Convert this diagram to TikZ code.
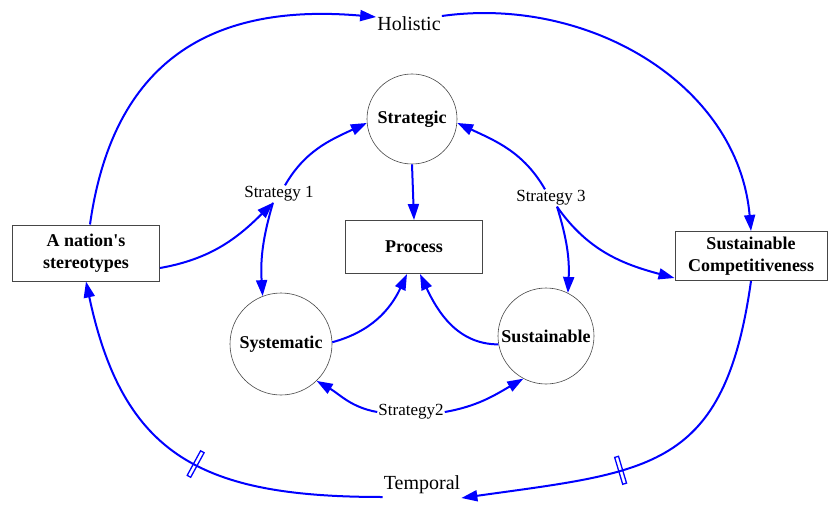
\documentclass[tikz,border=0pt]{standalone}
\usepackage{fontspec}
\setmainfont{Liberation Serif}
\usetikzlibrary{positioning, arrows.meta, shapes}
\definecolor{linkblue}{RGB}{0,0,255}
\definecolor{rimgray}{RGB}{70,70,70}

\begin{document}
\begin{tikzpicture}[x=1pt, y=1pt,
    link/.style={draw=linkblue, line width=2pt, -{Triangle[length=16pt, width=11pt]}},
    level/.style={circle, draw=rimgray, line width=0.6pt, inner sep=0pt,
        font=\fontsize{18}{22}\selectfont\bfseries},
    stock/.style={rectangle, draw=rimgray, line width=1pt, inner sep=0pt,
        align=center, font=\fontsize{18}{22}\selectfont\bfseries},
    aux/.style={inner sep=1pt, font=\fontsize{17}{20}\selectfont},
    delay/.style={sloped, draw=linkblue, line width=1.3pt, minimum width=4pt,
        minimum height=28pt, inner sep=0pt}]
    \useasboundingbox (0,0) rectangle (829,504);

    % Outer labels
    \node[aux, font=\fontsize{20}{22}\selectfont] (hol) at (409,480) {Holistic};
    \node[aux, font=\fontsize{20}{22}\selectfont] (temp) at (422,19) {Temporal};

    % Levels and boxes
    \node[level, minimum size=90pt] (strat) at (412,385) {Strategic};
    \node[stock, minimum width=137pt, minimum height=53pt] (proc) at (414,257) {Process};
    \node[level, minimum size=102pt] (syst) at (281,160) {Systematic};
    \node[level, minimum size=96pt] (sust) at (546,168) {Sustainable};
    \node[stock, minimum width=147pt, minimum height=56pt] (ster) at (86,251)
        {A nation\textquotesingle s\\stereotypes};
    \node[stock, minimum width=152pt, minimum height=49pt] (comp) at (751,248)
        {Sustainable\\Competitiveness};

    % Strategy labels
    \node[aux] (s1) at (279,310) {Strategy 1};
    \node[aux] (s2) at (411,92) {Strategy2};
    \node[aux] (s3) at (551,306) {Strategy 3};

    % Outer loop
    \draw[link] ([xshift=4pt]ster.north) to[out=82, in=175, looseness=1.2] ([yshift=7pt]hol.west);
    \draw[link] ([yshift=8pt]hol.east) to[out=8, in=95] (comp.north);
    \draw[link] (comp.south) to[out=262, in=8, looseness=1.35] node[delay, pos=0.65] {} ([yshift=-13pt]temp.east);
    \draw[link] ([yshift=-12pt]temp.west) to[out=180, in=282, looseness=1.25] node[delay, pos=0.45] {} (ster.south);

    % Strategy 1
    \draw[link] ([yshift=-15pt]ster.east) to[out=10, in=225] ([xshift=-6pt]s1.south);
    \draw[link] ([xshift=6pt]s1.north) to[out=60, in=205] (strat.185);
    \draw[link] ([xshift=-6pt]s1.south) to[bend right=10] (syst.111);

    % Into the process
    \draw[link] (strat.south) -- (proc.north);
    \draw[link] (syst.2) to[out=15, in=245] ([xshift=-7pt]proc.south);
    \draw[link] (sust.190) to[out=180, in=295] ([xshift=6pt]proc.south);

    % Strategy 2
    \draw[link] (s2.west) to[out=170, in=330] (syst.-46);
    \draw[link] (s2.east) to[out=10, in=210] (sust.242);

    % Strategy 3
    \draw[link] ([xshift=-6pt]s3.north) to[out=120, in=335] (strat.-5);
    \draw[link] ([xshift=6pt]s3.south) to[bend left=10] (sust.63);
    \draw[link] ([xshift=6pt]s3.south) to[out=-55, in=165] ([yshift=3pt]comp.south west);
\end{tikzpicture}
\end{document}
